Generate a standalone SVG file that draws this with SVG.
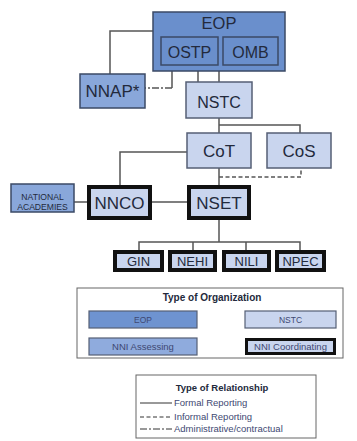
<svg xmlns="http://www.w3.org/2000/svg" width="357" height="441" viewBox="0 0 357 441">
<style>
.t{font-family:"Liberation Sans",Arial,sans-serif;fill:#232a3c;text-anchor:middle}
.lt{font-family:"Liberation Sans",Arial,sans-serif;fill:#3e4872;text-anchor:middle}
.c{fill:none;stroke:#555;stroke-width:1.5}
.dash{stroke-dasharray:4 2.5}
.dd{stroke-dasharray:7 2 2 2}
.eop{fill:#6a8fcc;stroke:#3b4a66;stroke-width:1.5}
.mid{fill:#89a7da;stroke:#3b4a66;stroke-width:1.5}
.lite{fill:#c9d5ee;stroke:#555f75;stroke-width:1.5}
.thick{fill:#c9d5ee;stroke:#111;stroke-width:4}
</style>
<rect width="357" height="441" fill="#fff"/>
<g id="connectors">
<path class="c" d="M153,31 H110 V74"/>
<path class="c" d="M172,65 V88"/>
<path class="c dd" d="M172,88 H145"/>
<path class="c" d="M198,65 V82"/>
<path class="c" d="M219,71 V82"/>
<path class="c" d="M219,118 V133"/>
<path class="c" d="M219,125 H300 V133"/>
<path class="c" d="M187,152 H120 V185"/>
<path class="c" d="M219,168 V185"/>
<path class="c dash" d="M219,177 H301 V168"/>
<path class="c" d="M74,202 H87"/>
<path class="c" d="M152,202 H187"/>
<path class="c" d="M219,220 V242"/>
<path class="c" d="M139,250 V242 H300 V250"/>
<path class="c" d="M193,242 V250"/>
<path class="c" d="M246,242 V250"/>
</g>
<g id="EOP">
<rect class="eop" x="153" y="12" width="132" height="59"/>
<text class="t" x="219" y="29" font-size="16.5">EOP</text>
</g>
<g id="OSTP">
<rect class="eop" x="161" y="37" width="57" height="28" stroke-width="1.2"/>
<text class="t" x="189.5" y="58" font-size="16">OSTP</text>
</g>
<g id="OMB">
<rect class="eop" x="223" y="37" width="55" height="28" stroke-width="1.2"/>
<text class="t" x="250.5" y="58" font-size="16">OMB</text>
</g>
<g id="NNAP">
<rect class="mid" x="80" y="74" width="65" height="34"/>
<text class="t" x="112.5" y="97" font-size="17">NNAP*</text>
</g>
<g id="NSTC">
<rect class="lite" x="186" y="82" width="66" height="36"/>
<text class="t" x="219" y="108" font-size="16">NSTC</text>
</g>
<g id="CoT">
<rect class="lite" x="187" y="133" width="64" height="35"/>
<text class="t" x="219" y="157" font-size="17">CoT</text>
</g>
<g id="CoS">
<rect class="lite" x="267" y="133" width="64" height="35"/>
<text class="t" x="299" y="157" font-size="17">CoS</text>
</g>
<g id="NationalAcademies">
<rect class="mid" x="11" y="184" width="63" height="28"/>
<text class="t" x="42.5" y="200" font-size="8.6">NATIONAL</text>
<text class="t" x="42.5" y="209.5" font-size="8.6">ACADEMIES</text>
</g>
<g id="NNCO">
<rect class="thick" x="89" y="187" width="61" height="31"/>
<text class="t" x="119.5" y="209" font-size="17">NNCO</text>
</g>
<g id="NSET">
<rect class="thick" x="189" y="187" width="60" height="31"/>
<text class="t" x="219" y="209" font-size="17">NSET</text>
</g>
<g id="GIN">
<rect class="thick" x="115" y="252" width="47" height="18" stroke-width="3.5"/>
<text class="t" x="138.5" y="266" font-size="13">GIN</text>
</g>
<g id="NEHI">
<rect class="thick" x="170" y="252" width="45" height="18" stroke-width="3.5"/>
<text class="t" x="192.5" y="266" font-size="13">NEHI</text>
</g>
<g id="NILI">
<rect class="thick" x="224" y="252" width="45" height="18" stroke-width="3.5"/>
<text class="t" x="246.5" y="266" font-size="13">NILI</text>
</g>
<g id="NPEC">
<rect class="thick" x="277" y="252" width="47" height="18" stroke-width="3.5"/>
<text class="t" x="300.5" y="266" font-size="13">NPEC</text>
</g>
<g id="legend-organization">
<rect x="77" y="288" width="266" height="70" fill="#fff" stroke="#666" stroke-width="1"/>
<text class="t" x="212" y="301" font-size="10" font-weight="bold">Type of Organization</text>
<rect x="89" y="311" width="108" height="17" fill="#6e93d0" stroke="#555f75" stroke-width="1.2"/>
<text class="lt" x="143" y="323" font-size="8.5">EOP</text>
<rect x="245" y="311" width="91" height="17" fill="#c9d5ee" stroke="#555f75" stroke-width="1.2"/>
<text class="lt" x="290.5" y="323" font-size="8.5">NSTC</text>
<rect x="89" y="338" width="108" height="17" fill="#8fabdd" stroke="#555f75" stroke-width="1.2"/>
<text class="lt" x="143" y="350" font-size="9.5">NNI Assessing</text>
<rect x="246.5" y="339.5" width="88" height="14" fill="#c9d5ee" stroke="#111" stroke-width="3"/>
<text class="lt" x="290.5" y="350" font-size="9.5">NNI Coordinating</text>
</g>
<g id="legend-relationship">
<rect x="136" y="375" width="180" height="63" fill="#fff" stroke="#666" stroke-width="1"/>
<text class="t" x="222" y="391" font-size="9.5" font-weight="bold">Type of Relationship</text>
<path d="M140,403 H172" stroke="#333" stroke-width="1"/>
<path d="M140,417 H172" stroke="#333" stroke-width="1" stroke-dasharray="4 2.5"/>
<path d="M140,429 H172" stroke="#333" stroke-width="1" stroke-dasharray="7 2 2 2"/>
<text class="lt" x="174" y="406" font-size="9.5" style="text-anchor:start">Formal Reporting</text>
<text class="lt" x="174" y="420" font-size="9.5" style="text-anchor:start">Informal Reporting</text>
<text class="lt" x="174" y="432" font-size="9.5" style="text-anchor:start">Administrative/contractual</text>
</g>
</svg>
